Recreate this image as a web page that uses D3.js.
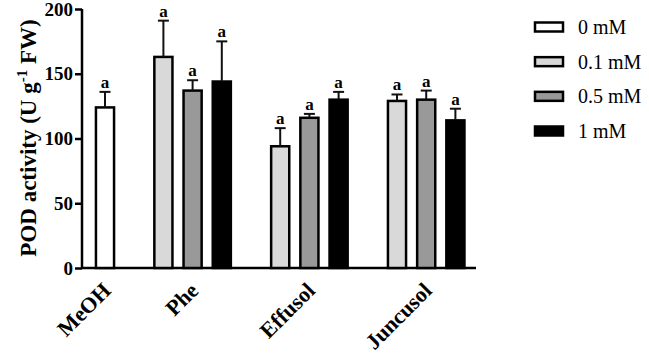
<!DOCTYPE html>
<html>
<head>
<meta charset="utf-8">
<script src="https://cdn.jsdelivr.net/npm/d3@7"></script>
<style>
  body { margin: 0; background: #fff; }
</style>
</head>
<body>
<div id="chart"></div>
<script>
// categories and series
const groups = ["MeOH", "Phe", "Effusol", "Juncusol"];
const concentrations = ["0 mM", "0.1 mM", "0.5 mM", "1 mM"];
const groupBars = [["0 mM"], ["0.1 mM", "0.5 mM", "1 mM"], ["0.1 mM", "0.5 mM", "1 mM"], ["0.1 mM", "0.5 mM", "1 mM"]];
const means = [[124], [163, 137, 144], [94, 116, 130], [129, 130, 114]];
const errors = [[12], [28, 8, 31], [14, 3, 6], [5, 7, 9]];
const letters = [["a"], ["a", "a", "a"], ["a", "a", "a"], ["a", "a", "a"]];
const yTicks = [0, 50, 100, 150, 200];
const fills = ["#ffffff", "#d9d9d9", "#999999", "#000000"];

const FONT = "'Liberation Serif', 'Times New Roman', serif";
const width = 649, height = 357;
const margin = {left: 82, top: 9, axisRight: 476, bottom: 268};

// flatten into bars, with an empty slot between groups
const bars = [];
const slots = [];
groups.forEach(function(g, gi) {
  if (gi > 0) slots.push("gap" + gi);
  groupBars[gi].forEach(function(c, bi) {
    const key = g + "|" + c;
    slots.push(key);
    bars.push({group: g, conc: c, key: key, value: means[gi][bi], err: errors[gi][bi], letter: letters[gi][bi]});
  });
});

const svg = d3.select("#chart").append("svg")
  .attr("width", width)
  .attr("height", height)
  .style("font-family", FONT);

const y = d3.scaleLinear()
  .domain([0, 200])
  .range([margin.bottom, margin.top]);

const x = d3.scaleBand()
  .domain(slots)
  .range([90.4, 470])
  .paddingInner(0.38)
  .paddingOuter(0.19);

const color = d3.scaleOrdinal().domain(concentrations).range(fills);

// y axis
const yAxis = svg.append("g")
  .attr("transform", "translate(" + margin.left + ",0)")
  .call(d3.axisLeft(y).tickValues(yTicks).tickSize(7).tickPadding(2).tickFormat(d3.format("d")));
yAxis.select(".domain").attr("stroke", "#000").attr("stroke-width", 2.5).attr("d", "M0," + y(200) + "V" + y(0));
yAxis.selectAll(".tick line").attr("stroke", "#000").attr("stroke-width", 2.5);
yAxis.selectAll(".tick text")
  .style("font-family", FONT)
  .attr("font-size", 19).attr("font-weight", "bold").attr("fill", "#000");

// x axis line (no ticks)
svg.append("line")
  .attr("x1", margin.left - 1).attr("x2", margin.axisRight)
  .attr("y1", y(0)).attr("y2", y(0))
  .attr("stroke", "#000").attr("stroke-width", 2.5);

// bars
svg.append("g").selectAll("rect")
  .data(bars)
  .join("rect")
  .attr("x", function(d) { return x(d.key); })
  .attr("y", function(d) { return y(d.value); })
  .attr("width", x.bandwidth())
  .attr("height", function(d) { return y(0) - y(d.value); })
  .attr("fill", function(d) { return color(d.conc); })
  .attr("stroke", "#000")
  .attr("stroke-width", 2.5);

// error bars (upper only)
const errG = svg.append("g").attr("stroke", "#111").attr("stroke-width", 2);
errG.selectAll(".stem")
  .data(bars)
  .join("line")
  .attr("class", "stem")
  .attr("x1", function(d) { return x(d.key) + x.bandwidth() / 2; })
  .attr("x2", function(d) { return x(d.key) + x.bandwidth() / 2; })
  .attr("y1", function(d) { return y(d.value); })
  .attr("y2", function(d) { return y(d.value + d.err); });
errG.selectAll(".cap")
  .data(bars)
  .join("line")
  .attr("class", "cap")
  .attr("x1", function(d) { return x(d.key) + x.bandwidth() / 2 - 5.5; })
  .attr("x2", function(d) { return x(d.key) + x.bandwidth() / 2 + 5.5; })
  .attr("y1", function(d) { return y(d.value + d.err); })
  .attr("y2", function(d) { return y(d.value + d.err); });

// significance letters
svg.selectAll(".letter")
  .data(bars)
  .join("text")
  .attr("class", "letter")
  .style("font-family", FONT)
  .attr("x", function(d) { return x(d.key) + x.bandwidth() / 2; })
  .attr("y", function(d) { return y(d.value + d.err) - 4; })
  .attr("text-anchor", "middle")
  .attr("font-size", 17)
  .attr("font-weight", "bold")
  .text(function(d) { return d.letter; });

// group labels, rotated
svg.selectAll(".glabel")
  .data(groups)
  .join("text")
  .attr("class", "glabel")
  .style("font-family", FONT)
  .attr("transform", function(g, gi) {
    const keys = groupBars[gi].map(function(c) { return g + "|" + c; });
    const cx = (x(keys[0]) + x(keys[keys.length - 1]) + x.bandwidth()) / 2;
    return "translate(" + (cx + 7) + "," + 292 + ") rotate(-45)";
  })
  .attr("text-anchor", "end")
  .attr("font-size", 22)
  .attr("font-weight", "bold")
  .text(function(g) { return g; });

// y title
const yt = svg.append("text")
  .style("font-family", FONT)
  .attr("transform", "translate(36," + 138 + ") rotate(-90)")
  .attr("text-anchor", "middle")
  .attr("font-size", 23)
  .attr("font-weight", "bold");
yt.append("tspan").text("POD activity (U g");
yt.append("tspan").attr("dy", -9).attr("font-size", 15).text("-1");
yt.append("tspan").attr("dy", 9).text(" FW)");

// legend
const rowY = d3.scalePoint().domain(concentrations).range([27, 131]);
const rows = svg.append("g").selectAll("g")
  .data(concentrations)
  .join("g")
  .attr("transform", function(c) { return "translate(535," + rowY(c) + ")"; });
rows.append("rect")
  .attr("x", 0).attr("y", -4.5)
  .attr("width", 28).attr("height", 9)
  .attr("fill", function(c) { return color(c); })
  .attr("stroke", "#000").attr("stroke-width", 2.5);
rows.append("text")
  .style("font-family", FONT)
  .attr("x", 43).attr("y", 0)
  .attr("dy", "0.35em")
  .attr("font-size", 20)
  .text(function(c) { return c; });
</script>
</body>
</html>
